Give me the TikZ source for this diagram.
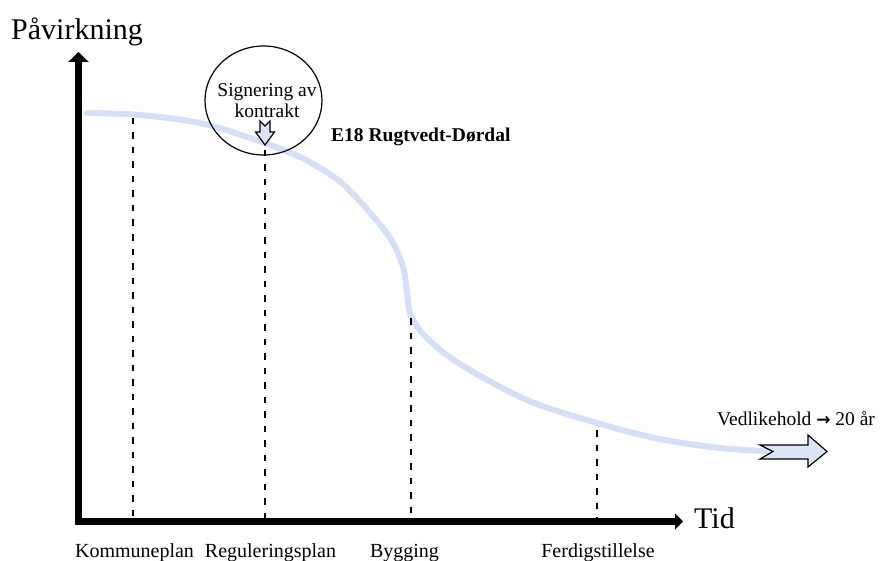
\documentclass[tikz,border=0pt]{standalone}
\usepackage{fontspec}
\setmainfont{Liberation Serif}
\newfontfamily\arrowfont{DejaVu Sans}
\usetikzlibrary{arrows.meta,shapes.geometric}
\definecolor{curveblue}{HTML}{D5DFF5}
\definecolor{arrowfill}{HTML}{DCE5F7}

\begin{document}
\begin{tikzpicture}[x=1pt,y=-1pt,
  axis/.style={line width=7.5pt,line join=miter,
    {Triangle[length=10pt,width=20pt]}-{Triangle[length=8pt,width=16pt]}},
  axislabel/.style={inner sep=0pt,font=\fontsize{30}{32}\selectfont},
  ticklabel/.style={inner sep=0pt,anchor=base,font=\fontsize{20}{22}\selectfont},
  tickline/.style={line width=2pt,dash pattern=on 6.5pt off 8pt},
  plaintext/.style={inner sep=0pt,font=\fontsize{20}{22}\selectfont},
  blockarrow/.style={draw=black,fill=arrowfill,line width=1.2pt,line join=miter},
  impact/.style={curveblue,line width=6pt,line cap=round}]

\useasboundingbox (0,0) rectangle (882,561);

% influence curve over time
\draw[impact] plot[smooth,tension=0.55] coordinates {
  (87,113) (140,115) (200,123) (250,138) (300,157) (338,180)
  (365,207) (390,238) (403,267) (407,293) (411,316) (427,338)
  (460,364) (527,400) (597,423) (660,439) (720,448) (773,451.5)};

% axes
\coordinate (ytop) at (78.5,52);
\coordinate (origin) at (78.5,521.5);
\coordinate (xend) at (683,521.5);

% phases along the time axis
\coordinate (kommune top) at (132.5,118);
\coordinate (regulering top) at (265,150);
\coordinate (bygging top) at (410.5,318);
\coordinate (ferdig top) at (597,430);
\node[ticklabel] (kommune) at (134.5,557) {Kommuneplan};
\node[ticklabel] (regulering) at (270.5,557) {Reguleringsplan};
\node[ticklabel] (bygging) at (404.5,557) {Bygging};
\node[ticklabel] (ferdig) at (598,557) {Ferdigstillelse};
\foreach \p in {kommune,regulering,bygging,ferdig}
  \draw[tickline] (\p\space top) -- (\p\space top |- origin);

\draw[axis] (ytop) -- (origin) -- (xend);
\node[axislabel,anchor=base west] (ylabel) at (11,40) {Påvirkning};
\node[axislabel,anchor=base west] (xlabel) at (694,528) {Tid};

% contract signing
\node[ellipse,draw,line width=1.2pt,minimum width=117pt,minimum height=109pt,
  inner sep=0pt] (signing) at (263.5,100.5) {};
\node[plaintext,align=center,anchor=base,font=\fontsize{19.5}{22}\selectfont]
  (signtext) at (267,118) {Signering av\\[-1pt]kontrakt};
\coordinate (signarrow) at (260,121);
\draw[blockarrow] (signarrow) -- (265,126) -- (270,121) -- (270,132)
  -- (274.5,132) -- (265,145) -- (255.5,132) -- (260,132) -- cycle;

\node[plaintext,anchor=base west,font=\bfseries\fontsize{19.5}{22}\selectfont]
  (project) at (331,142) {E18 Rugtvedt-Dørdal};

% maintenance period
\node[plaintext,anchor=base west,font=\fontsize{19.5}{22}\selectfont]
  (maintenance) at (717,425)
  {Vedlikehold {\arrowfont\bfseries\fontsize{17}{20}\selectfont →} 20 år};
\coordinate (maintarrow) at (760,445);
\draw[blockarrow] (maintarrow) -- (773,451.5) -- (760,459) -- (808,459)
  -- (808,467) -- (827,451.5) -- (808,435) -- (808,445) -- cycle;
\end{tikzpicture}
\end{document}
